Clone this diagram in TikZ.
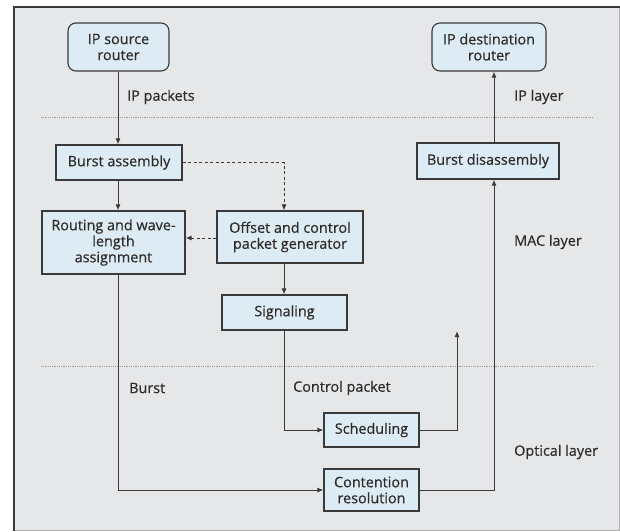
\documentclass[tikz,border=0pt]{standalone}
\usepackage{fontspec}
\setmainfont{Open Sans}[UprightFeatures={FakeBold=0.5}]
\usetikzlibrary{arrows.meta}
\definecolor{bg}{HTML}{E6E7E9}
\definecolor{boxfill}{HTML}{DDEBF5}
\definecolor{ink}{HTML}{3A3A3A}
\definecolor{txt}{HTML}{2E2B29}
\tikzset{
  box/.style={draw=ink, line width=1.1pt, fill=boxfill, align=center, inner sep=0pt,
    font=\fontsize{14.4}{16}\selectfont, text=txt},
  rbox/.style={box, rounded corners=8pt},
  lbl/.style={font=\fontsize{14.4}{16}\selectfont, text=txt, inner sep=0pt},
  conn/.style={draw=ink, line width=1pt, -{Latex[length=6pt,width=5pt]}},
  dconn/.style={conn, dash pattern=on 3pt off 2.5pt},
  layerline/.style={draw=gray!80, line width=1pt, dash pattern=on 1pt off 0.8pt}
}
\begin{document}
\begin{tikzpicture}[x=1pt,y=-1pt]
\useasboundingbox (0,0) rectangle (620,531);
\fill[bg] (14,7) rectangle (620,531);
\draw[gray!60, line width=1pt] (619.5,7) -- (619.5,530.5) -- (14,530.5);
\draw[ink, line width=1.3pt] (14,531) -- (14,7) -- (620,7);
% layer lines
\draw[layerline] (41,117) -- (593,117);
\draw[layerline] (41,366) -- (593,366);
% nodes
\node[rbox, minimum width=101pt, minimum height=48pt] (src) at (118.5,47) {IP source\\router};
\node[rbox, minimum width=114pt, minimum height=48pt] (dst) at (489,47) {IP destination\\router};
\node[box, minimum width=126pt, minimum height=35pt] (ba) at (119,162.5) {Burst assembly};
\node[box, minimum width=142pt, minimum height=36pt] (bd) at (488,161) {Burst disassembly};
\node[box, minimum width=143pt, minimum height=63pt] (rwa) at (113.5,242.5) {Routing and wave-\\length\\assignment};
\node[box, minimum width=146pt, minimum height=52pt] (ocp) at (290,237) {Offset and control\\packet generator};
\node[box, minimum width=125pt, minimum height=35pt] (sig) at (284.5,312.5) {Signaling};
\node[box, minimum width=95pt, minimum height=34pt] (sch) at (371.5,430) {Scheduling};
\node[box, minimum width=95pt, minimum height=42pt] (cr) at (371.5,490) {Contention\\resolution};
% labels
\node[lbl, anchor=west] (lipp) at (127,97) {IP packets};
\node[lbl, anchor=west] (lipl) at (514,97) {IP layer};
\node[lbl, anchor=west] (lmac) at (514,242) {MAC layer};
\node[lbl, anchor=west] (lopt) at (514,452) {Optical layer};
\node[lbl, anchor=west] (lbur) at (129,388) {Burst};
\node[lbl, anchor=west] (lcp) at (293,388) {Control packet};
% coordinates
\coordinate (cx) at (284,0);
\coordinate (dx) at (494,0);
\coordinate (sx) at (118,0);
\coordinate (dy) at (0,238);
\coordinate (up) at (457,331);
% connectors
\draw[conn] (src.south -| sx) -- (ba.north -| sx);
\draw[conn] (ba.south -| sx) -- (rwa.north -| sx);
\draw[dconn] (ba.east) -| (ocp.north -| cx);
\draw[dconn] (ocp.west |- dy) -- (rwa.east |- dy);
\draw[conn] (ocp.south -| cx) -- (sig.north -| cx);
\draw[conn] (sig.south -| cx) |- (sch.west);
\draw[conn] (rwa.south -| sx) |- (cr.west);
\draw[conn] (sch.east) -| (up);
\draw[conn] (cr.east) -| (bd.south -| dx);
\draw[conn] (bd.north -| dx) -- (dst.south -| dx);
\end{tikzpicture}
\end{document}
